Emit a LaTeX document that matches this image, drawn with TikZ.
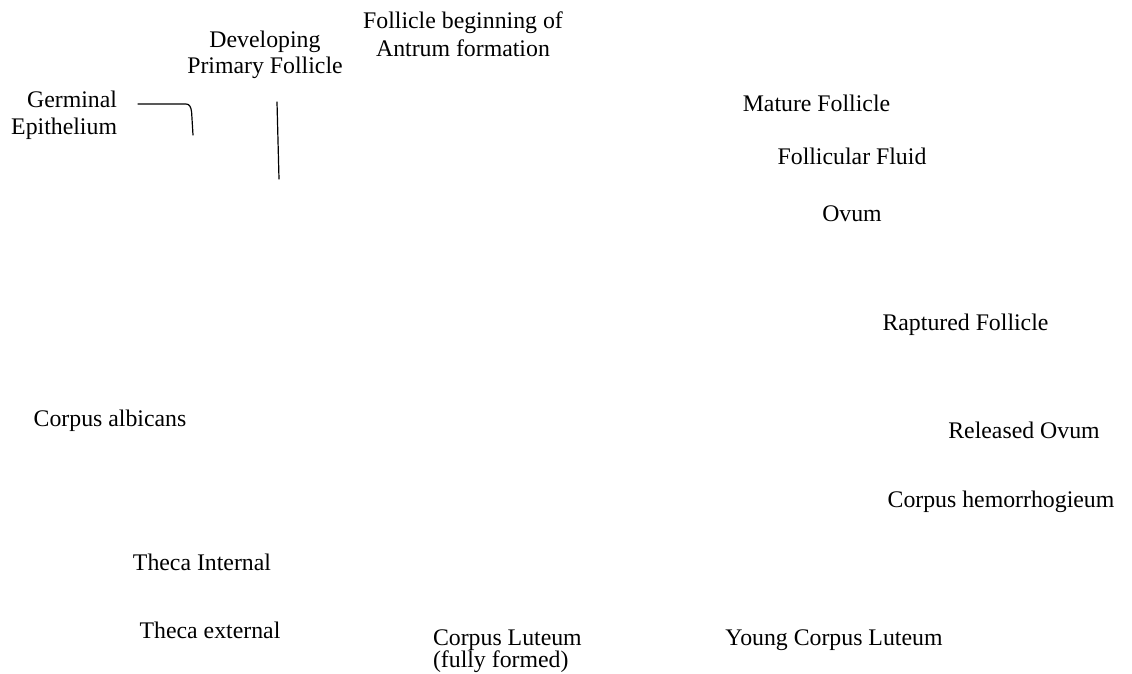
\documentclass[tikz,border=0pt]{standalone}
\usepackage{fontspec}
\setmainfont{Liberation Serif}
\begin{document}
\begin{tikzpicture}[x=0.5pt,y=-0.5pt,
  lbl/.style={inner sep=0pt, outer sep=0pt, font=\fontsize{11.9}{13.6}\selectfont},
  lead/.style={line width=0.6pt, line cap=round, line join=round}]
\fill[white] (0,0) rectangle (1132,674);
\useasboundingbox (0,0) rectangle (1132,674);

% labels of the ovarian cycle stages (multi-line labels sit on their last baseline)
\node[lbl, align=right, anchor=base east] (germ) at (117,135) {Germinal\\Epithelium};
\node[lbl, align=center, anchor=base, font=\fontsize{11.9}{13}\selectfont] (devel) at (265,74) {Developing\\Primary Follicle};
\node[lbl, align=center, anchor=base, font=\fontsize{11.9}{14}\selectfont] (antrum) at (463,57) {Follicle beginning of\\Antrum formation};
\node[lbl, anchor=base] (mature) at (816.5,112) {Mature Follicle};
\node[lbl, anchor=base] (fluid) at (852,165) {Follicular Fluid};
\node[lbl, anchor=base] (ovum) at (852,222) {Ovum};
\node[lbl, anchor=base] (rapt) at (965.5,331) {Raptured Follicle};
\node[lbl, anchor=base] (released) at (1024,438) {Released Ovum};
\node[lbl, anchor=base] (hemo) at (1001,508) {Corpus hemorrhogieum};
\node[lbl, anchor=base] (albicans) at (110,426) {Corpus albicans};
\node[lbl, anchor=base] (thint) at (202,570) {Theca Internal};
\node[lbl, anchor=base] (thext) at (210,638) {Theca external};
\node[lbl, align=left, anchor=base west, font=\fontsize{11.9}{11}\selectfont] (luteum) at (433,667) {Corpus Luteum\\(fully formed)};
\node[lbl, anchor=base] (young) at (834,645) {Young Corpus Luteum};

% leader lines
\coordinate (germA) at (138,104);
\coordinate (germB) at (193,135);
\coordinate (develA) at (277,102);
\coordinate (develB) at (279,179);
\draw[lead] (germA) -- (186,104) .. controls (189.5,104) and (191,107) .. (191.6,112) -- (germB);
\draw[lead] (develA) -- (develB);
\end{tikzpicture}
\end{document}
